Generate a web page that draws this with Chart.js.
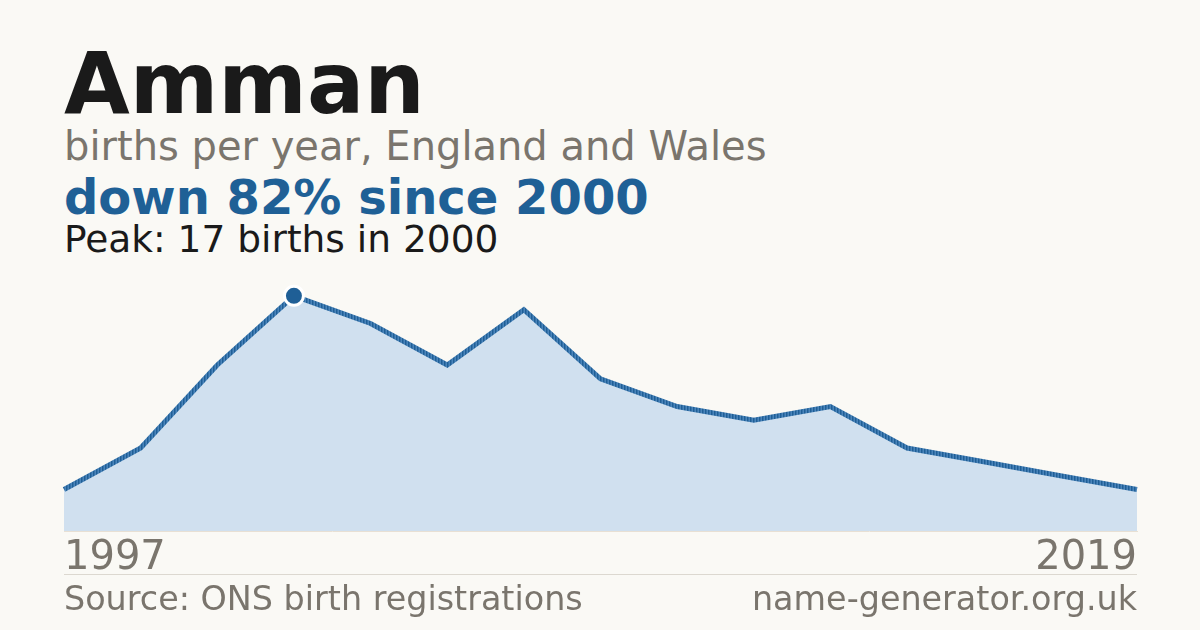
<!DOCTYPE html>
<html>
<head>
<meta charset="utf-8">
<script src="https://cdn.jsdelivr.net/npm/chart.js@4/dist/chart.umd.min.js"></script>
<style>
  html, body { margin: 0; padding: 0; }
  body { width: 1200px; height: 630px; background: #faf9f5; position: relative; overflow: hidden; font-family: "DejaVu Sans", sans-serif; }
  .t { position: absolute; left: 64px; line-height: 1; white-space: nowrap; }
  #title { top: 41px; font-size: 85px; font-weight: bold; color: #1a1a1a; }
  #sub { top: 126px; font-size: 40px; color: #7a756d; }
  #delta { top: 173px; font-size: 48px; font-weight: bold; color: #1f6096; }
  #peak { top: 221px; font-size: 37.5px; color: #1a1a1a; }
  #sep { position: absolute; left: 64px; width: 1073px; top: 574px; height: 1px; background: #dcd8d0; }
  #src { top: 582px; font-size: 33.4px; color: #7a756d; }
  #site { top: 582px; left: auto; right: 63px; font-size: 33.4px; color: #7a756d; }
  #wrap { position: absolute; left: 0; top: 275px; width: 1200px; height: 320px; }
</style>
</head>
<body>
<div class="t" id="title">Amman</div>
<div class="t" id="sub">births per year, England and Wales</div>
<div class="t" id="delta">down 82% since 2000</div>
<div class="t" id="peak">Peak: 17 births in 2000</div>
<div id="wrap"><canvas id="c"></canvas></div>
<div id="sep"></div>
<div class="t" id="src">Source: ONS birth registrations</div>
<div class="t" id="site">name-generator.org.uk</div>
<script>
const years = ["1997","1998","1999","2000","2001","2002","2003","2004","2006","2008","2010","2012","2014","2016","2019"];
const births = [3, 6, 12, 17, 15, 12, 16, 11, 9, 8, 9, 6, 5, 4, 3];
const peakIndex = 3;

const last = years.length - 1;

// striped line texture like the reference
const pc = document.createElement('canvas');
pc.width = 3; pc.height = 1;
const pctx = pc.getContext('2d');
pctx.fillStyle = '#1f5f96'; pctx.fillRect(0, 0, 1, 1);
pctx.fillStyle = '#3572aa'; pctx.fillRect(1, 0, 1, 1);
pctx.fillStyle = '#4a84ba'; pctx.fillRect(2, 0, 1, 1);
const stripe = pctx.createPattern(pc, 'repeat');

new Chart(document.getElementById('c'), {
  type: 'line',
  data: {
    labels: years,
    datasets: [{
      data: births,
      borderColor: stripe,
      borderWidth: 5,
      backgroundColor: '#d0e0ef',
      fill: 'origin',
      tension: 0,
      pointRadius: ctx => ctx.dataIndex === peakIndex ? 9.5 : 0,
      pointHoverRadius: ctx => ctx.dataIndex === peakIndex ? 9.5 : 0,
      pointBackgroundColor: '#1f5f96',
      pointBorderColor: '#ffffff',
      pointBorderWidth: 3,
      clip: false
    }]
  },
  options: {
    responsive: true,
    maintainAspectRatio: false,
    animation: false,
    events: [],
    layout: { padding: { left: 64, right: 63, top: 7, bottom: 8 } },
    plugins: { legend: { display: false }, tooltip: { enabled: false } },
    scales: {
      x: {
        type: 'category',
        offset: false,
        grid: { display: false, drawTicks: false },
        border: { display: true, color: '#e8e0d4', width: 1 },
        ticks: {
          autoSkip: false,
          maxRotation: 0,
          align: 'inner',
          padding: 4,
          color: '#7a756d',
          font: { family: 'DejaVu Sans', size: 40 },
          callback: function(v, i) { return (i === 0 || i === last) ? years[i] : ''; }
        }
      },
      y: {
        display: false,
        min: 0,
        max: 18
      }
    }
  }
});
</script>
</body>
</html>
